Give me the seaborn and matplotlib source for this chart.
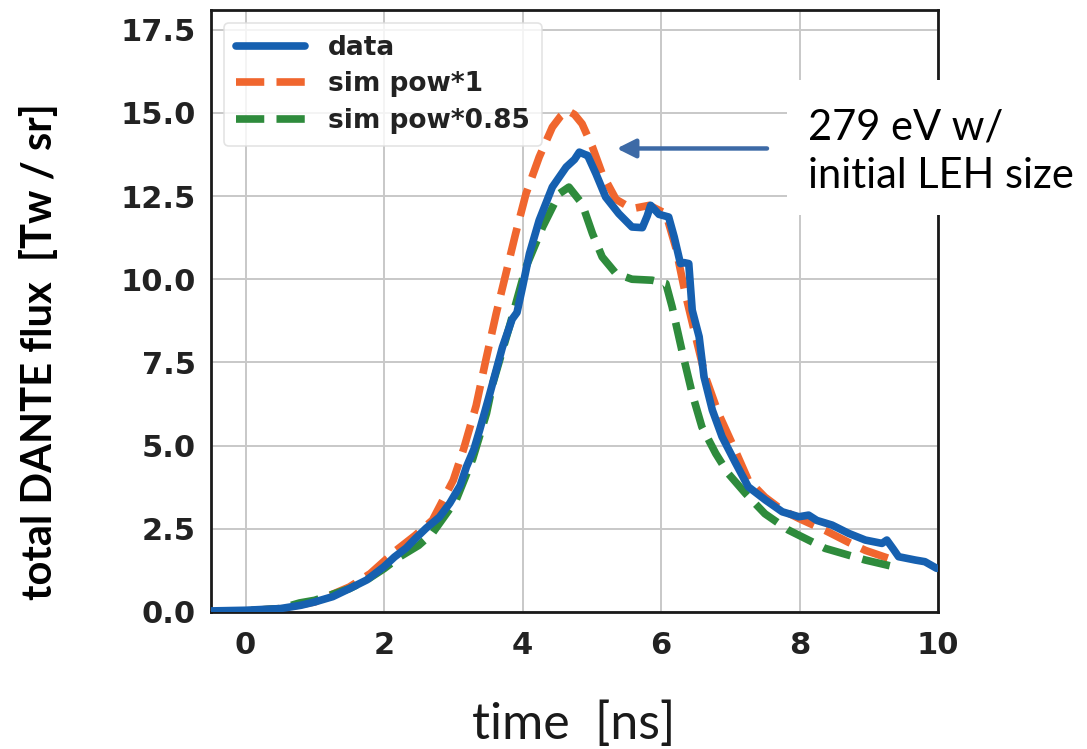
import matplotlib
matplotlib.use("Agg")
import matplotlib.pyplot as plt
import matplotlib.patches as mpatches
import seaborn as sns

# ---------------- data ----------------
t_data = [-0.5, 0.0, 0.5, 0.8, 1.0, 1.26, 1.5, 1.75, 2.0, 2.15, 2.32, 2.45, 2.61, 2.8, 2.95,
          3.1, 3.19, 3.3, 3.38, 3.52, 3.71, 3.85, 3.92, 4.0, 4.10, 4.24, 4.43, 4.63, 4.75, 4.82,
          4.9, 4.94, 5.06, 5.20, 5.39, 5.58, 5.73, 5.8, 5.85, 5.97, 6.11, 6.19, 6.28, 6.33,
          6.40, 6.45, 6.55, 6.62, 6.74, 6.88, 7.07, 7.26, 7.51, 7.75, 7.99, 8.13, 8.25, 8.47,
          8.71, 8.95, 9.19, 9.26, 9.35, 9.43, 9.67, 9.81, 9.98]
f_data = [0.03, 0.05, 0.1, 0.2, 0.3, 0.46, 0.7, 0.96, 1.36, 1.65, 1.92, 2.2, 2.52, 2.85, 3.27,
          3.8, 4.36, 4.9, 5.46, 6.5, 7.96, 8.8, 9.0, 9.77, 10.77, 11.77, 12.77, 13.37, 13.6, 13.82,
          13.75, 13.72, 13.17, 12.47, 11.97, 11.57, 11.55, 11.9, 12.22, 11.95, 11.87, 11.27, 10.47, 10.5,
          10.47, 9.07, 8.27, 7.07, 6.07, 5.27, 4.5, 3.76, 3.36, 3.01, 2.86, 2.91, 2.75, 2.61,
          2.36, 2.16, 2.06, 2.16, 1.9, 1.66, 1.56, 1.51, 1.31]

t_sim1 = [-0.5, 0.0, 0.5, 1.0, 1.5, 1.8, 2.18, 2.45, 2.7, 3.0, 3.15, 3.33, 3.47, 3.62, 3.76,
          3.90, 4.05, 4.24, 4.43, 4.55, 4.65, 4.75, 4.86, 5.01, 5.15, 5.35, 5.58, 5.83, 6.07,
          6.21, 6.35, 6.50, 6.64, 6.83, 7.07, 7.26, 7.5, 7.75, 8.0, 8.37, 8.7, 8.95, 9.3]
f_sim1 = [0.0, 0.03, 0.1, 0.3, 0.75, 1.15, 1.86, 2.3, 2.76, 3.96, 4.9, 6.2, 7.57, 8.97, 10.17,
          11.37, 12.57, 13.67, 14.57, 14.9, 15.07, 14.95, 14.67, 13.97, 13.17, 12.4, 12.12, 12.22, 11.97,
          10.97, 9.57, 8.27, 7.07, 5.96, 4.86, 3.96, 3.45, 3.06, 2.8, 2.45, 2.1, 1.85, 1.6]

t_sim085 = [-0.5, 0.0, 0.5, 0.78, 1.0, 1.5, 1.75, 2.0, 2.23, 2.5, 2.7, 3.04, 3.28, 3.48, 3.57,
            3.81, 4.05, 4.29, 4.53, 4.67, 4.86, 5.01, 5.15, 5.35, 5.58, 5.87, 6.07, 6.16, 6.30,
            6.45, 6.59, 6.79, 6.97, 7.22, 7.5, 7.84, 8.37, 8.95, 9.36]
f_sim085 = [0.0, 0.03, 0.1, 0.27, 0.35, 0.7, 0.96, 1.3, 1.66, 2.0, 2.37, 3.36, 4.6, 5.97, 6.86,
            8.57, 10.37, 11.57, 12.57, 12.77, 12.27, 11.37, 10.67, 10.17, 10.0, 9.97, 9.87, 9.17, 7.87,
            6.56, 5.56, 4.76, 4.16, 3.56, 2.95, 2.46, 1.91, 1.56, 1.36]

x_ticks = [0, 2, 4, 6, 8, 10]
y_ticks = [0.0, 2.5, 5.0, 7.5, 10.0, 12.5, 15.0, 17.5]
labels = ["data", "sim pow*1", "sim pow*0.85"]

# ---------------- style ----------------
sns.set_theme(style="whitegrid")
plt.rcParams['font.family'] = ['DejaVu Sans']

C_DATA = "#1660b0"
C_SIM1 = "#f0662e"
C_SIM085 = "#2e8b3c"

fig = plt.figure(figsize=(10.87, 7.49), dpi=100)
fig.patch.set_facecolor("white")
ax = fig.add_axes([0.194, 0.183, 0.669, 0.804])

sns.lineplot(x=t_data, y=f_data, ax=ax, color=C_DATA, lw=5.5, label=labels[0],
             solid_capstyle="round", solid_joinstyle="round", zorder=3)
sns.lineplot(x=t_sim1, y=f_sim1, ax=ax, color=C_SIM1, lw=5.5, linestyle="--",
             label=labels[1], zorder=2)
sns.lineplot(x=t_sim085, y=f_sim085, ax=ax, color=C_SIM085, lw=5.5, linestyle="--",
             label=labels[2], zorder=2)

ax.set_xlim(-0.5, 10)
ax.set_ylim(0, 18.1)
ax.set_xticks(x_ticks)
ax.set_yticks(y_ticks)
ax.set_yticklabels([f"{v:.1f}" for v in y_ticks])
ax.set_xlabel("")
ax.set_ylabel("")

ax.grid(True, color="#c8c8c8", lw=1.4)
ax.set_facecolor("white")
for s in ax.spines.values():
    s.set_visible(True)
    s.set_color("#1a1a1a")
    s.set_linewidth(2)
ax.tick_params(axis="both", direction="out", length=6, width=1.8, color="#1a1a1a",
               labelsize=22, labelcolor="#222222")
ax.tick_params(axis="x", pad=8)
ax.tick_params(axis="y", pad=5)
for lab in ax.get_xticklabels() + ax.get_yticklabels():
    lab.set_fontweight("bold")

leg = ax.legend(loc="upper left", handlelength=2.6, frameon=True,
                prop={"size": 19, "weight": "bold"},
                borderaxespad=0.5, labelspacing=0.4, borderpad=0.45, handletextpad=0.9)
leg.get_frame().set_edgecolor("#dddddd")
leg.get_frame().set_linewidth(1.2)
for txt in leg.get_texts():
    txt.set_color("#222222")

# arrow annotation
ax.annotate("", xy=(5.36, 13.93), xytext=(7.53, 13.93),
            arrowprops=dict(arrowstyle="-|>", lw=3.2, color="#3d6aa6",
                            mutation_scale=28, shrinkA=0, shrinkB=0), zorder=6)

# white box hiding frame, plus annotation text
rect = mpatches.Rectangle((787 / 1087, 1 - 215 / 749), (1087 - 787) / 1087, 135 / 749,
                          transform=fig.transFigure, facecolor="white", edgecolor="none", zorder=5)
fig.add_artist(rect)
fig.text(808 / 1087, 1 - 152 / 749, "279 eV w/\ninitial LEH size", ha="left", va="center",
         fontsize=30, family=["Lato", "DejaVu Sans"], color="black", linespacing=1.35, zorder=6)

fig.text(40 / 1087, 1 - 352 / 749, "total DANTE flux  [Tw / sr]", rotation=90,
         ha="center", va="center", fontsize=30, fontweight="bold",
         family=["Lato", "DejaVu Sans"], color="black")
fig.text(574 / 1087, 1 - 725 / 749, "time  [ns]", ha="center", va="center",
         fontsize=36, family=["Lato", "DejaVu Sans"], color="#1a1a1a")

fig.savefig("out.png", dpi=100, facecolor="white")
